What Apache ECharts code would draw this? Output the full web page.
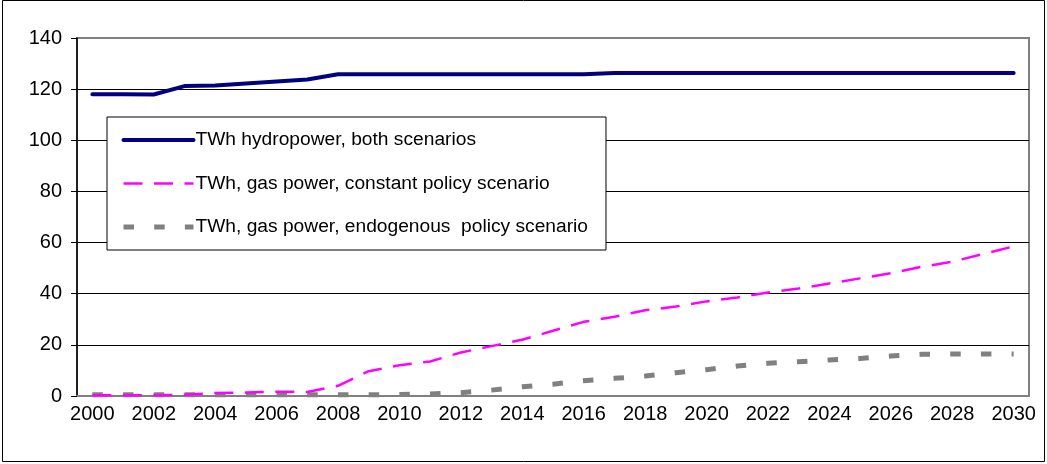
<!DOCTYPE html>
<html>
<head>
<meta charset="utf-8">
<script src="https://cdn.jsdelivr.net/npm/echarts@6/dist/echarts.min.js"></script>
<style>
  html, body { margin: 0; padding: 0; background: #fff; }
  #chart { width: 1047px; height: 464px; }
</style>
</head>
<body>
<div id="chart"></div>
<script>
const years = ['2000', '2001', '2002', '2003', '2004', '2005', '2006', '2007', '2008', '2009',
  '2010', '2011', '2012', '2013', '2014', '2015', '2016', '2017', '2018', '2019',
  '2020', '2021', '2022', '2023', '2024', '2025', '2026', '2027', '2028', '2029', '2030'];

// TWh hydropower, both scenarios
const hydro = [118, 118, 117.9, 121.2, 121.4, 122.2, 123, 123.8, 125.8, 125.8,
  125.8, 125.8, 125.8, 125.8, 125.8, 125.8, 125.8, 126.3, 126.3, 126.3,
  126.3, 126.3, 126.3, 126.3, 126.3, 126.3, 126.3, 126.3, 126.3, 126.3, 126.3];

// TWh, gas power, constant policy scenario
const gasConstant = [0.3, 0.3, 0.3, 0.5, 1.2, 1.4, 1.7, 1.6, 4, 9.7,
  12, 13.5, 17, 19.5, 22, 25.5, 29, 31, 33.5, 35,
  37, 38.5, 40.5, 42, 44, 46, 48, 50.5, 52.5, 55.5, 58.5];

// TWh, gas power, endogenous policy scenario
const gasEndogenous = [0.5, 0.5, 0.5, 0.5, 0.5, 0.5, 0.5, 0.5, 0.5, 0.5,
  0.6, 0.8, 1.3, 2.3, 3.6, 4.6, 6, 6.9, 7.8, 9.1,
  10.3, 11.7, 12.8, 13.4, 14.1, 14.7, 15.6, 16.3, 16.4, 16.4, 16.4];

const seriesNames = [
  'TWh hydropower, both scenarios',
  'TWh, gas power, constant policy scenario',
  'TWh, gas power, endogenous  policy scenario'
];

const font = "'Liberation Sans', Arial, sans-serif";
const noSymbol = { color: 'rgba(0,0,0,0)', borderWidth: 0, opacity: 0 };

const myChart = echarts.init(document.getElementById('chart'));

const option = {
  animation: false,
  graphic: [
    {
      type: 'rect',
      shape: { x: 2.5, y: 0.5, width: 1042, height: 461 },
      style: { fill: 'none', stroke: '#000', lineWidth: 1 },
      silent: true
    }
  ],
  grid: {
    left: 77,
    right: 18,
    top: 38,
    bottom: 68,
    show: true,
    borderColor: '#808080',
    borderWidth: 2
  },
  legend: {
    orient: 'vertical',
    left: 107,
    top: 117,
    padding: [12, 18, 12, 14],
    itemWidth: 70,
    itemHeight: 14,
    itemGap: 21.5,
    backgroundColor: '#fff',
    borderColor: '#000',
    borderWidth: 1,
    textStyle: { fontFamily: font, fontSize: 19.2, color: '#000', lineHeight: 22, padding: [0, 0, 0, -3] },
    data: [
      { name: seriesNames[0], lineStyle: { width: 4 }, itemStyle: noSymbol },
      { name: seriesNames[1], lineStyle: { width: 2.5 }, itemStyle: noSymbol },
      { name: seriesNames[2], lineStyle: { width: 5 }, itemStyle: noSymbol }
    ]
  },
  xAxis: {
    type: 'category',
    data: years,
    boundaryGap: true,
    axisLine: { lineStyle: { color: '#808080', width: 2 } },
    axisTick: { interval: 0, length: 6, lineStyle: { color: '#000', width: 1 } },
    axisLabel: { interval: 1, fontFamily: font, fontSize: 20, color: '#000', margin: 8 },
    splitLine: { show: false }
  },
  yAxis: {
    type: 'value',
    min: 0,
    max: 140,
    interval: 20,
    axisLine: { show: true, lineStyle: { color: '#000', width: 1.5 } },
    axisTick: { show: true, length: 6, lineStyle: { color: '#000', width: 1 } },
    axisLabel: { fontFamily: font, fontSize: 20, color: '#000', margin: 15 },
    splitLine: {
      lineStyle: {
        color: ['#808080', '#000', '#000', '#000', '#000', '#000', '#000', '#808080'],
        width: 1
      }
    }
  },
  series: [
    {
      name: seriesNames[0],
      type: 'line',
      data: hydro,
      symbol: 'none',
      lineStyle: { color: '#000080', width: 4, cap: 'round' },
      itemStyle: { color: '#000080' },
      z: 4
    },
    {
      name: seriesNames[1],
      type: 'line',
      data: gasConstant,
      symbol: 'none',
      lineStyle: { color: '#ff00ff', width: 2.5, type: [19, 11.5] },
      itemStyle: { color: '#ff00ff' },
      z: 3
    },
    {
      name: seriesNames[2],
      type: 'line',
      data: gasEndogenous,
      symbol: 'none',
      lineStyle: { color: '#808080', width: 5, type: [10.5, 20.2] },
      itemStyle: { color: '#808080' },
      z: 2
    }
  ]
};

myChart.setOption(option);
</script>
</body>
</html>
